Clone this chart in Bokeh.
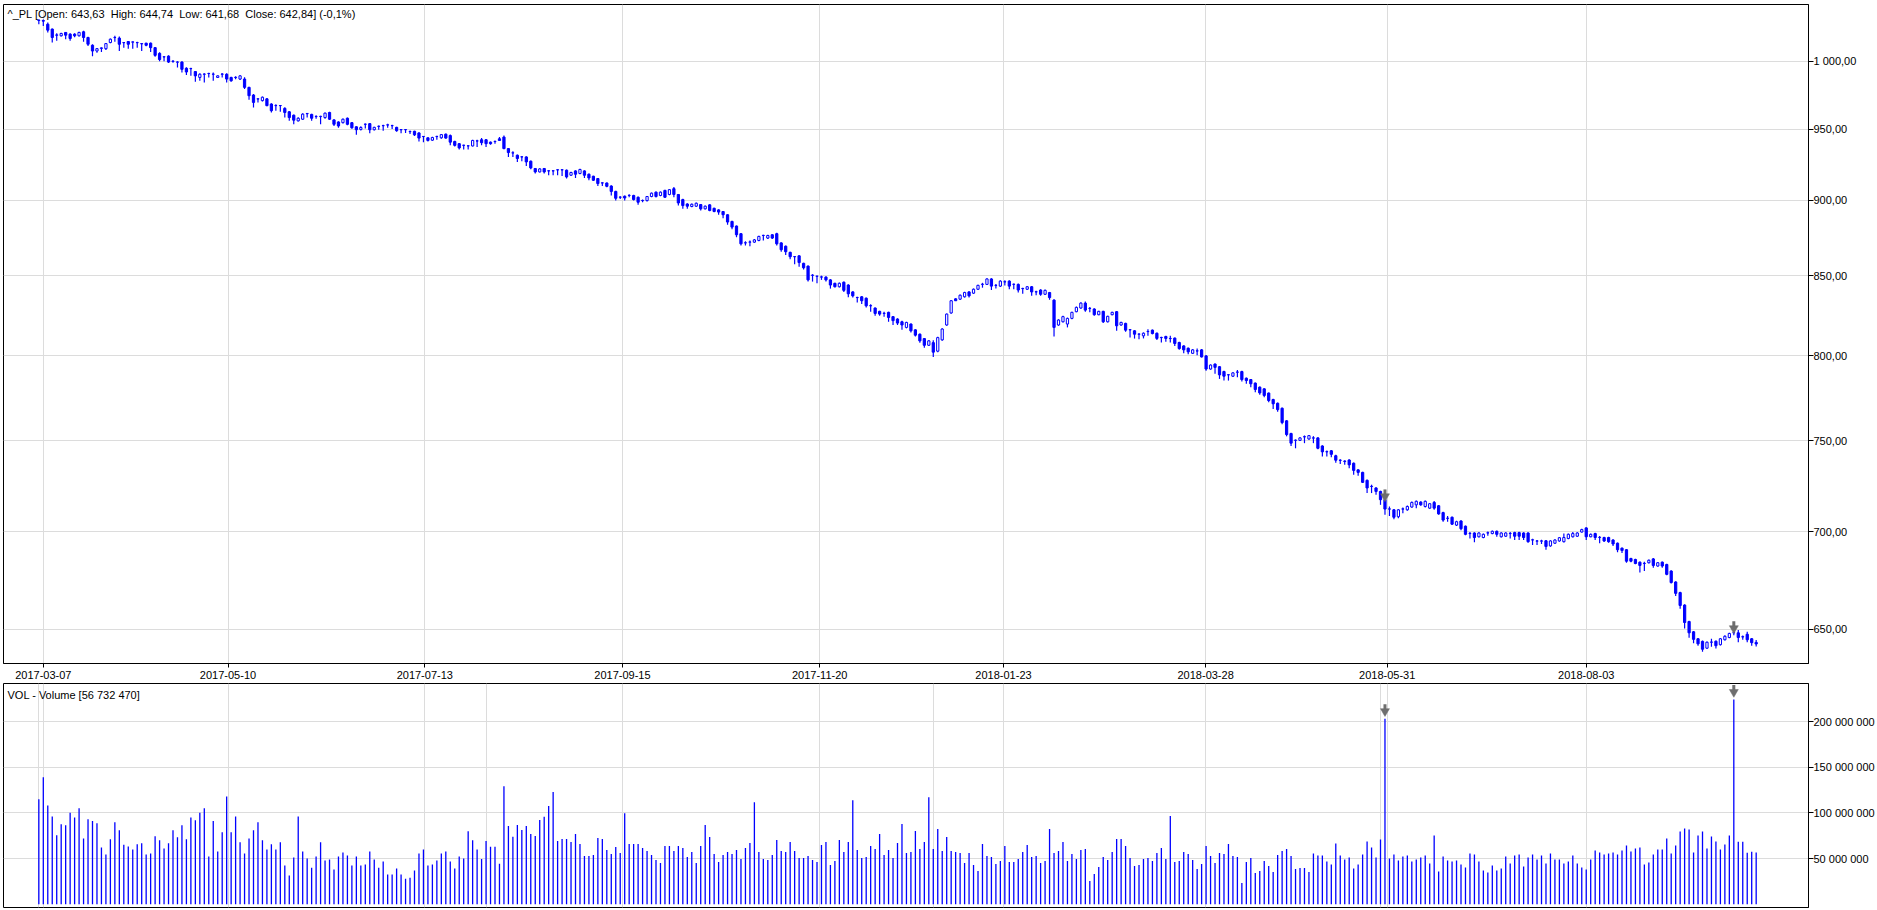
import math
from bokeh.plotting import figure
from bokeh.layouts import column
from bokeh.models import Range1d, FixedTicker, Label, Grid, ColumnDataSource
from bokeh.embed import file_html
from bokeh.resources import INLINE

# ---------------- data ----------------
opens = [
    1031.5, 1031.5, 1028.6, 1024.8, 1020.0, 1019.6, 1022.2, 1020.9, 1020.9, 1019.6,
    1022.7, 1018.3, 1012.3, 1007.9, 1009.9, 1009.7, 1014.4, 1018.2, 1017.8, 1014.3,
    1015.2, 1014.7, 1014.3, 1013.4, 1013.9, 1013.9, 1010.5, 1006.1, 1003.4, 1004.0,
    1000.0, 999.4, 999.5, 994.8, 994.5, 992.3, 987.9, 990.3, 990.8, 990.3,
    987.9, 990.3, 990.3, 987.9, 987.8, 986.7, 986.7, 980.5, 974.8, 971.9,
    970.7, 972.0, 968.2, 967.0, 967.0, 965.0, 962.5, 960.0, 955.9, 957.1,
    961.1, 960.6, 959.0, 959.0, 958.3, 962.0, 956.6, 955.1, 954.6, 957.8,
    954.6, 951.6, 949.7, 953.4, 953.9, 949.5, 951.9, 952.4, 952.9, 952.4,
    951.2, 949.5, 949.5, 948.1, 948.4, 947.2, 944.6, 943.7, 942.0, 944.6,
    943.7, 946.3, 945.3, 941.1, 939.5, 938.3, 937.9, 937.9, 941.4, 942.3,
    942.3, 940.6, 941.0, 943.0, 944.2, 936.0, 932.9, 931.3, 930.1, 930.1,
    927.1, 922.0, 919.6, 922.0, 920.3, 920.3, 921.0, 921.0, 920.8, 917.3,
    920.3, 918.5, 920.3, 918.0, 916.6, 915.0, 911.9, 911.9, 909.8, 906.1,
    902.1, 902.8, 903.3, 903.3, 902.1, 899.8, 899.8, 902.6, 905.6, 903.3,
    906.8, 904.0, 908.0, 904.0, 900.5, 897.5, 895.8, 896.0, 897.1, 894.2,
    896.9, 894.6, 893.5, 892.4, 890.2, 885.7, 882.6, 877.5, 871.4, 871.9,
    871.9, 873.0, 876.3, 874.6, 876.8, 877.5, 871.4, 869.2, 865.2, 862.3,
    862.9, 858.0, 856.2, 850.2, 849.6, 849.1, 849.1, 847.3, 845.1, 842.9,
    845.8, 844.0,
    839.6, 836.0, 836.5, 835.6, 830.8, 829.4, 827.3, 826.0, 826.7, 824.0,
    822.5, 820.8, 817.3, 819.4, 815.8, 813.1, 810.4, 806.3, 807.9, 802.7,
    809.6, 818.8, 826.3, 835.2, 835.0, 836.5, 839.6, 838.8, 841.3, 844.4,
    844.4, 847.9, 843.7, 843.3, 846.0, 846.5, 844.4, 844.4, 841.7, 841.3,
    842.9, 839.6, 840.8, 838.1, 839.2, 834.4, 818.8, 820.8, 819.4, 822.9,
    827.1, 829.4, 832.5, 829.1, 828.8, 825.2, 827.3, 820.8, 825.2, 827.1,
    818.8, 819.8, 815.8, 815.2, 813.1,
    812.1, 814.7, 815.6, 813.7, 811.0, 811.7, 810.4, 810.7, 808.0, 805.9,
    804.5, 801.4, 802.8, 803.5, 799.8, 791.9, 794.9, 793.3, 790.4, 788.4,
    787.6, 790.0, 790.4, 786.4, 785.6, 783.5, 781.1, 780.1, 777.6, 773.8,
    771.6, 768.7, 761.4, 754.1, 750.2, 750.2, 752.2, 751.0, 751.5, 751.6,
    747.0, 743.7, 744.3,
    741.5, 739.0, 738.5, 739.1, 737.3, 733.6, 732.2, 727.8, 724.4, 723.6,
    721.7, 717.2, 712.1, 711.7, 708.0, 712.1, 711.7, 713.2, 714.4, 715.9,
    713.5, 712.6, 715.7, 713.9, 710.2, 707.1, 707.7, 703.5, 705.7, 702.9,
    699.0, 699.3, 697.3, 696.9, 699.3, 699.0, 700.2, 697.3, 697.6, 699.0,
    699.5, 699.5, 699.3, 699.3, 695.6, 695.0, 695.0, 695.2, 692.5, 693.9,
    695.1, 694.7, 696.4, 697.3, 697.6, 699.8, 702.0, 697.3, 699.0, 696.9,
    696.9, 696.9, 695.6, 693.9, 691.3, 690.5, 685.9, 685.4, 684.0, 683.3,
    683.7, 685.7, 682.0, 684.0, 682.8, 679.4, 673.8, 668.4, 662.1, 653.9,
    648.8, 645.4, 644.1, 640.8, 643.7, 644.2, 642.5, 644.9, 646.0, 648.3,
    648.3, 646.3, 647.6, 645.4, 643.63,
]

highs = [
    1032.3, 1032.3, 1030.0, 1025.3, 1021.6, 1022.0, 1022.5, 1021.5, 1021.6, 1022.8,
    1023.5, 1018.8, 1013.0, 1010.2, 1010.6, 1014.0, 1017.5, 1019.6, 1019.0, 1014.8,
    1015.5, 1015.3, 1015.0, 1014.0, 1014.2, 1014.5, 1011.0, 1007.0, 1004.0, 1004.6,
    1000.8, 1000.1, 1000.2, 995.5, 995.2, 992.8, 991.0, 991.0, 991.5, 991.6,
    989.6, 991.0, 991.0, 988.4, 988.8, 989.8, 988.0, 981.0, 975.5, 972.5,
    973.8, 972.6, 968.7, 968.0, 967.5, 965.8, 963.0, 960.6, 958.5, 961.5,
    961.6, 961.0, 960.0, 959.6, 962.0, 962.5, 957.0, 955.6, 957.6, 958.3,
    955.0, 952.0, 952.0, 954.0, 954.4, 951.6, 952.5, 953.0, 953.8, 953.0,
    951.6, 950.0, 950.0, 949.0, 948.8, 947.7, 945.0, 944.0, 944.5, 945.2,
    946.5, 946.8, 946.0, 941.6, 940.0, 938.8, 938.4, 942.3, 942.3, 943.5,
    942.8, 941.0, 941.8, 944.2, 945.3, 936.5, 934.1, 931.8, 930.6, 930.6,
    927.6, 922.4, 922.2, 922.4, 920.8, 920.8, 921.5, 921.5, 921.2, 919.7,
    920.7, 921.8, 920.8, 918.5, 917.0, 915.4, 912.5, 912.3, 910.3, 906.6,
    902.8, 903.3, 904.2, 903.8, 902.6, 900.6, 903.0, 905.3, 906.0, 906.1,
    907.3, 907.8, 909.1, 904.4, 901.0, 898.0, 897.8, 898.5, 897.5, 896.5,
    897.3, 895.0, 893.9, 892.8, 890.6, 886.1, 883.0, 877.9, 872.5, 873.0,
    873.9, 876.1, 876.8, 876.8, 877.2, 878.1, 871.8, 869.6, 865.6, 862.8,
    863.3, 858.4, 856.6, 851.0, 850.0, 850.0, 849.6, 847.8, 845.5, 845.6,
    846.2, 844.5,
    840.0, 836.5, 837.0, 836.0, 831.8, 829.8, 827.7, 827.0, 827.1, 824.4,
    823.0, 821.5, 820.8, 819.8, 816.2, 813.5, 810.8, 809.5, 809.4, 811.5,
    816.8, 826.0, 834.5, 835.5, 838.0, 839.7, 840.0, 841.8, 844.2, 845.4,
    848.4, 848.4, 844.6, 847.0, 847.1, 847.0, 845.0, 844.9, 842.2, 843.4,
    843.4, 840.4, 841.3, 841.1, 839.6, 835.0, 822.4, 824.5, 823.4, 827.1,
    830.3, 833.0, 833.5, 830.0, 829.2, 827.7, 827.7, 824.6, 827.1, 827.6,
    820.8, 820.2, 816.3, 815.6, 813.6,
    814.2, 816.2, 816.0, 814.1, 811.5, 812.1, 812.1, 811.1, 808.4, 806.3,
    804.9, 804.0, 804.3, 804.0, 800.3, 794.7, 795.3, 793.7, 790.8, 788.9,
    790.0, 791.3, 790.8, 786.8, 786.0, 783.9, 781.5, 780.5, 778.0, 774.2,
    772.0, 769.1, 761.8, 754.5, 750.7, 752.0, 753.0, 753.3, 752.6, 752.0,
    747.4, 744.5, 744.7,
    742.0, 739.5, 738.9, 739.5, 737.7, 734.0, 732.6, 728.2, 725.4, 724.0,
    722.1, 717.6, 713.5, 712.1, 712.1, 713.0, 714.0, 716.2, 716.8, 716.4,
    716.8, 715.4, 716.5, 714.3, 710.6, 708.4, 708.1, 705.8, 706.1, 703.3,
    699.8, 699.7, 699.7, 699.0, 700.1, 700.6, 700.6, 699.7, 699.7, 699.8,
    699.9, 699.9, 699.7, 699.7, 696.2, 695.6, 695.7, 695.6, 695.5, 696.0,
    697.2, 699.0, 699.0, 699.8, 699.7, 701.5, 702.4, 699.0, 699.4, 697.7,
    697.3, 697.3, 696.0, 694.3, 691.7, 690.9, 686.3, 685.8, 684.4, 684.2,
    685.4, 686.1, 684.1, 684.4, 683.2, 679.8, 674.2, 668.8, 662.5, 654.3,
    649.2, 645.8, 644.5, 644.1, 645.4, 644.6, 645.8, 647.1, 648.4, 649.3,
    649.7, 647.0, 648.8, 645.8, 644.74,
]

lows = [
    1028.6, 1027.3, 1022.2, 1014.4, 1015.7, 1019.0, 1017.0, 1015.7, 1018.5, 1019.0,
    1015.0, 1011.8, 1004.0, 1006.6, 1007.2, 1008.7, 1013.8, 1015.0, 1007.9, 1010.5,
    1009.7, 1009.7, 1010.5, 1007.9, 1011.5, 1007.2, 1003.5, 1000.2, 1000.2, 998.7,
    998.9, 995.3, 991.6, 989.8, 989.1, 984.7, 985.4, 984.2, 987.9, 985.4,
    987.5, 987.9, 984.2, 984.7, 986.5, 986.0, 979.3, 971.4, 965.7, 969.4,
    970.0, 966.5, 962.0, 963.3, 962.5, 958.3, 955.9, 953.4, 955.5, 956.5,
    958.3, 955.9, 957.5, 953.4, 957.5, 956.5, 952.2, 951.0, 954.0, 952.8,
    950.2, 945.8, 949.0, 950.4, 947.0, 949.0, 949.5, 948.8, 951.0, 950.0,
    948.0, 947.0, 947.2, 946.5, 945.0, 941.0, 940.6, 941.0, 941.5, 942.3,
    943.0, 943.0, 938.3, 937.5, 935.3, 935.3, 935.3, 937.5, 937.2, 938.3,
    937.2, 938.8, 939.5, 941.4, 935.5, 930.1, 930.1, 926.6, 927.1, 923.8,
    921.5, 918.5, 919.2, 918.5, 917.3, 917.3, 917.3, 916.8, 915.0, 916.8,
    915.4, 918.0, 915.4, 913.8, 913.2, 909.8, 909.8, 909.0, 903.3, 899.8,
    900.9, 899.8, 902.1, 899.8, 896.9, 898.7, 899.2, 902.1, 902.0, 902.8,
    901.6, 903.5, 902.1, 896.4, 894.2, 894.2, 895.3, 895.5, 893.1, 893.8,
    892.6, 891.9, 890.2, 887.9, 883.5, 880.4, 875.2, 869.6, 869.6, 869.2,
    871.4, 872.5, 873.0, 874.0, 874.0, 869.6, 865.6, 863.4, 860.7, 857.4,
    855.8, 854.0, 846.2, 846.2, 845.1, 847.3, 846.2, 841.7, 842.4, 842.4,
    839.5, 836.2,
    836.0, 832.9, 831.9, 829.8, 827.1, 824.6, 824.6, 824.0, 820.8, 818.8,
    818.8, 815.8, 816.7, 814.2, 811.7, 807.9, 804.8, 805.8, 799.2, 802.0,
    809.0, 818.3, 825.8, 833.8, 834.5, 836.0, 836.0, 838.3, 840.8, 842.3,
    844.0, 840.8, 841.7, 842.8, 843.7, 841.3, 841.3, 839.2, 838.5, 840.8,
    837.1, 837.5, 837.1, 837.6, 834.6, 811.7, 818.3, 820.3, 817.3, 822.4,
    826.7, 828.9, 827.1, 826.7, 824.6, 824.8, 820.0, 820.3, 824.8, 815.2,
    818.3, 814.6, 811.0, 810.4, 810.0,
    810.5, 812.1, 813.0, 809.6, 808.0, 808.4, 808.0, 805.9, 803.5, 801.4,
    800.8, 801.0, 800.2, 798.8, 790.9, 791.5, 789.0, 786.0, 785.0, 785.0,
    787.2, 787.0, 784.4, 783.1, 781.1, 778.1, 776.6, 775.2, 772.2, 768.3,
    766.7, 759.4, 752.5, 747.0, 745.7, 749.8, 748.6, 750.6, 748.6, 745.1,
    741.1, 741.1, 740.7,
    737.5, 736.9, 736.4, 734.5, 730.9, 730.3, 726.3, 720.8, 720.8, 719.9,
    714.4, 709.0, 708.4, 706.6, 707.1, 709.9, 711.2, 712.8, 712.6, 713.9,
    713.0, 712.2, 711.8, 709.0, 705.3, 705.3, 703.5, 703.0, 700.7, 698.1,
    696.4, 694.4, 696.9, 696.5, 697.8, 698.6, 697.3, 696.9, 697.2, 696.4,
    695.6, 695.6, 695.6, 694.2, 693.0, 693.0, 693.5, 690.5, 692.0, 693.5,
    694.7, 694.3, 696.0, 696.9, 697.2, 699.5, 695.6, 697.0, 695.6, 693.9,
    694.6, 694.2, 692.5, 689.1, 688.8, 683.7, 684.0, 682.9, 678.6, 679.4,
    683.3, 681.1, 681.6, 681.1, 677.2, 673.0, 666.7, 660.2, 650.5, 645.9,
    643.2, 642.0, 639.1, 640.4, 641.5, 640.7, 642.1, 644.5, 645.6, 647.1,
    643.7, 644.9, 643.7, 642.0, 641.68,
]

closes = [
    1031.8, 1031.0, 1024.0, 1018.3, 1020.3, 1021.4, 1020.1, 1017.5, 1019.6, 1022.2,
    1018.3, 1013.1, 1007.9, 1009.7, 1010.3, 1013.6, 1017.0, 1018.3, 1013.1, 1014.4,
    1013.1, 1014.9, 1014.4, 1013.6, 1012.3, 1010.5, 1004.6, 1001.4, 1003.5, 999.5,
    1000.2, 999.5, 994.0, 992.0, 994.6, 989.1, 990.3, 990.4, 990.9, 990.4,
    989.1, 990.5, 986.7, 985.4, 988.0, 989.1, 980.5, 974.3, 969.4, 972.0,
    973.2, 967.0, 963.3, 967.1, 967.1, 962.0, 958.3, 956.4, 957.8, 960.8,
    961.3, 957.8, 959.1, 959.2, 961.5, 957.1, 953.4, 952.2, 957.1, 953.4,
    950.9, 949.5, 951.1, 953.5, 949.5, 951.2, 952.0, 952.5, 953.0, 952.5,
    948.8, 949.6, 949.6, 948.2, 945.8, 943.5, 944.7, 941.8, 943.9, 944.7,
    946.0, 943.5, 940.6, 938.3, 936.5, 938.4, 938.0, 941.8, 941.5, 940.2,
    939.5, 939.5, 941.1, 941.8, 936.0, 933.2, 933.0, 929.0, 930.2, 926.6,
    922.4, 919.6, 921.7, 919.6, 920.4, 920.4, 921.1, 921.1, 916.1, 919.2,
    918.0, 921.3, 917.3, 915.4, 913.8, 911.5, 912.0, 909.6, 906.1, 901.4,
    902.2, 901.6, 903.4, 900.5, 898.7, 899.9, 902.6, 904.9, 902.6, 905.6,
    902.1, 907.3, 904.0, 898.2, 896.4, 896.0, 897.3, 898.0, 894.2, 896.0,
    893.1, 892.4, 892.0, 890.2, 885.3, 881.9, 876.8, 870.8, 871.5, 872.0,
    873.4, 875.7, 876.4, 876.3, 874.6, 870.8, 866.9, 865.6, 862.3, 862.4,
    858.5, 855.1, 847.3, 850.3, 849.7, 849.2, 847.3, 844.0, 842.9, 845.1,
    840.6, 838.4,
    837.1, 836.1, 834.0, 830.8, 830.9, 826.0, 825.6, 826.1, 823.5, 821.5,
    820.0, 818.8, 820.4, 815.2, 812.5, 809.0, 806.3, 809.0, 802.1, 811.0,
    816.3, 825.6, 834.0, 834.0, 837.5, 839.2, 837.1, 841.3, 843.8, 844.5,
    847.9, 843.3, 843.8, 846.5, 846.1, 843.3, 844.5, 840.8, 841.8, 842.9,
    839.6, 839.7, 838.1, 840.6, 836.0, 817.3, 821.9, 824.0, 822.9, 826.7,
    829.8, 832.5, 828.1, 829.2, 825.2, 827.3, 820.8, 824.2, 826.7, 818.3,
    820.4, 815.6, 815.9, 813.1, 813.2,
    813.7, 814.8, 813.5, 810.5, 811.1, 810.5, 810.5, 807.4, 804.3, 803.5,
    802.3, 803.5, 802.9, 799.2, 791.9, 794.3, 792.9, 788.4, 787.6, 788.5,
    789.6, 790.1, 785.6, 785.0, 783.1, 779.7, 777.7, 776.2, 773.2, 771.3,
    767.9, 760.4, 753.5, 748.6, 750.3, 751.6, 752.3, 752.9, 751.6, 745.7,
    743.7, 743.8, 742.3,
    739.0, 738.9, 738.3, 736.4, 733.3, 732.2, 726.7, 723.6, 724.5, 721.7,
    717.2, 712.1, 712.2, 707.7, 711.7, 712.2, 713.5, 715.7, 716.3, 714.4,
    716.3, 715.0, 712.6, 709.5, 706.2, 707.2, 704.0, 705.3, 701.6, 698.6,
    699.1, 696.9, 699.3, 698.6, 699.4, 700.2, 698.6, 699.3, 699.3, 699.1,
    697.6, 697.6, 696.9, 694.7, 695.7, 695.1, 695.1, 692.2, 695.1, 695.6,
    696.8, 696.9, 698.6, 699.0, 699.3, 701.1, 697.3, 698.6, 696.9, 697.0,
    695.1, 694.7, 693.5, 690.5, 690.1, 684.5, 684.5, 683.3, 682.3, 683.4,
    685.0, 682.3, 683.7, 682.0, 677.7, 673.5, 668.0, 661.9, 653.4, 648.3,
    645.1, 642.9, 640.3, 643.7, 643.8, 642.0, 645.4, 646.6, 648.0, 648.4,
    646.0, 646.4, 644.9, 643.5, 642.84,
]

# volume in millions of shares
volumes_m = [
    115, 139, 108, 96, 75.4, 87.6, 86.5, 100, 95, 105,
    72, 93, 91, 88.7, 62, 54.5, 71, 89.8, 81, 65,
    63.3, 60, 65.5, 66.6, 54.5, 55.6, 74.3, 70, 61, 66.6,
    81, 73.2, 86.5, 71, 95, 92, 100, 105, 52.3, 91,
    57.8, 78.8, 118, 78.8, 96, 67.7, 55.6, 72, 81, 89.8,
    70, 60, 65.5, 60, 67.7, 42.3, 31.3, 51.2, 96, 57.8,
    50, 40, 52.3, 67.7, 47.8, 49, 37.9, 52.3, 56.7, 53.4,
    42.3, 52.3, 42.3, 43.4, 57.8, 49, 40, 46.7, 32.4, 32.4,
    39, 32.4, 28, 29, 36.8, 55.6, 60, 42.3, 43.4, 47.8,
    55.6, 57.8, 46.7, 39, 52.3, 50, 79.9, 70, 60,
    49.5, 69.2, 63, 63, 44.4, 129.2, 85.5, 73.9, 86.6, 81.2,
    85.5, 76.8, 74.6, 92.1, 95.7, 107.4, 122.7, 69.2, 71.3, 71.3,
    68.1, 76.8, 65.9, 52.8, 52.8, 53.9, 72.4, 71.3, 59.3, 55,
    62.6, 56.1, 99.7, 65.9, 65.9, 65.9, 61.5, 58.2, 53.9, 48.4,
    45.1, 63.7, 63.7, 58.2, 63.7, 61.5, 51.7, 57.1, 45.1, 63.7,
    86.6, 73.5, 55, 46.2, 53.9, 57.1, 55, 59.3, 49.5, 61.5,
    67, 111.7, 57.1, 49.5, 48.4, 53.9, 70.3, 58.2, 57.1, 68.1,
    58.2, 50.6, 50.6, 52.8, 48.4, 46.2, 64.8, 68.1, 43, 47.3,
    70.3, 57.1, 68.1, 113.9, 59.3, 50.6, 51.7, 63.7, 60.4, 76.8,
    53.9, 59.3, 50.6, 67, 87.7, 56.1, 57.1, 80.1, 60.4, 68.1,
    117.2, 60.4, 82.3, 58.2, 73.5, 58.2, 57.1, 56.1, 45.1, 56.1,
    43, 36.4, 65.9, 52.8, 51.7, 44, 47.3, 63.7, 46.2, 46.2,
    49.5, 57.1, 64.8, 51.7, 52.8, 45.1, 47.3, 82.3, 56.1, 58.2,
    68.1, 47.3, 55, 49.5, 59.3, 60.4, 25.5, 33.1, 40.8, 51.7,
    48.4, 57.1, 71.3, 71.3, 63.7, 50.6, 41.9, 43, 49.5, 50.6,
    47.3, 56.1, 61.5, 49.5, 96.5, 46.2, 47.3, 57.1, 55, 48.4,
    38.6, 44, 63.7, 52.8, 45.1, 56.1, 55, 65.9, 52.8, 51.7,
    23.3, 46.2, 50.6, 34.2, 36.4, 47.3, 41.9, 35.3, 53.9, 58.2,
    60.4, 52.8, 38.6, 39.7, 39.7, 35.3, 55.5, 53.3, 53.3, 46.7,
    43.4, 66.4, 53.3, 48.9, 51.1, 39, 43.4, 54.4, 68.6, 62,
    51.1, 70.8, 203, 50, 54.4, 47.8, 52.2, 53.3, 46.7, 48.9,
    51.1, 53.3, 44.5, 75.2, 35.8, 52.2, 47.8, 46.7, 47.8, 43.4,
    40.2, 55.5, 54.4, 46.7, 36.9, 34.7, 42.3, 36.9, 39, 52.2,
    44.5, 53.3, 54.4, 41.2, 51.1, 54.4, 48.9, 53.3, 44.5, 55.5,
    48.9, 48.9, 44.5, 46.7, 53.3, 44.5, 40.2, 38, 48.9, 58.8,
    56.6, 54.4, 55.5, 56.6, 54.4, 58.8, 64.2, 57.7, 61, 62,
    43.4, 45.6, 54.4, 59.9, 59.9, 71.9, 55.5, 64.2, 79.6, 82.9,
    81.8, 56.6, 75.2, 79.6, 61, 74.1, 68.6, 59.9, 65.3, 75.2,
    224, 68.3, 68.3, 56.2, 57.3, 56.73,
]

date_tick_pos = [1, 42.3, 86.3, 130.5, 174.6, 215.7, 260.9, 301.5, 346.0]
date_tick_labels = ["2017-03-07", "2017-05-10", "2017-07-13", "2017-09-15", "2017-11-20",
                    "2018-01-23", "2018-03-28", "2018-05-31", "2018-08-03"]
price_ticks = [650, 700, 750, 800, 850, 900, 950, 1000]
price_tick_labels = ["650,00", "700,00", "750,00", "800,00", "850,00", "900,00", "950,00", "1 000,00"]
vol_ticks = [50, 100, 150, 200]
vol_tick_labels = ["50 000 000", "100 000 000", "150 000 000", "200 000 000"]
marker_bars = [301, 379]

price_title = "^_PL [Open: 643,63\u00a0 High: 644,74\u00a0 Low: 641,68\u00a0 Close: 642,84] (-0,1%)"
vol_title = "VOL - Volume [56 732 470]"

assert len(opens) == len(highs) == len(lows) == len(closes) == len(volumes_m)

# ---------------- styling / layout ----------------
BLUE = "#0000ff"
GRID = "#dcdcdc"
FONT = "Liberation Sans"
ARROW = "#6e6e6e"
W = 1877

n = len(closes)
xs = list(range(n))
src = ColumnDataSource(dict(
    x=xs, o=opens, h=highs, l=lows, c=closes, v=volumes_m,
    top=[max(a, b) for a, b in zip(opens, closes)],
    bot=[min(a, b) for a, b in zip(opens, closes)],
    fill=["white" if c >= o else BLUE for o, c in zip(opens, closes)],
))

xr = Range1d(-7.9, 395.7)
PRICE_LO, PRICE_HI = 633.4, 1044.1
VOL_LO, VOL_HI = -3.6, 241.6
PX_PER_LN = 1316.0     # price panel: pixels per unit of ln(price)
PX_PER_M = 0.9135      # volume panel: pixels per million

p1 = figure(width=W, height=681, x_range=xr, y_range=Range1d(PRICE_LO, PRICE_HI),
            y_axis_type="log", y_axis_location="right", x_axis_location="below",
            output_backend="svg", toolbar_location=None,
            min_border_left=3, min_border_right=60, min_border_top=4, min_border_bottom=0)
p1.segment(x0="x", y0="l", x1="x", y1="h", source=src, line_color=BLUE, line_width=1.2)
p1.vbar(x="x", width=0.5, top="top", bottom="bot", source=src,
        fill_color="fill", line_color=BLUE, line_width=1)

p2 = figure(width=W, height=229, x_range=xr, y_range=Range1d(VOL_LO, VOL_HI),
            y_axis_location="right", x_axis_location=None,
            output_backend="svg", toolbar_location=None,
            min_border_left=3, min_border_right=60, min_border_top=2, min_border_bottom=3)
p2.segment(x0="x", y0=0, x1="x", y1="v", source=src, line_color=BLUE, line_width=1.3)
p2.add_layout(Grid(dimension=0, ticker=FixedTicker(ticks=date_tick_pos, minor_ticks=[]),
                   grid_line_color=GRID, grid_line_width=1))

# event markers (grey down arrows) above the flagged bars
mk_x = marker_bars
p1_head = [highs[b] * math.exp(2.5 / PX_PER_LN) for b in marker_bars]
p1_shaft = [highs[b] * math.exp(7.0 / PX_PER_LN) for b in marker_bars]
p2_head = [volumes_m[b] + 7.5 / PX_PER_M for b in marker_bars]
p2_shaft = [volumes_m[b] + 12.0 / PX_PER_M for b in marker_bars]
for p, heads, shafts in ((p1, p1_head, p1_shaft), (p2, p2_head, p2_shaft)):
    p.rect(x=mk_x, y=shafts, width=3, height=5, width_units="screen", height_units="screen",
           fill_color=ARROW, line_color=None)
    p.scatter(x=mk_x, y=heads, marker="inverted_triangle", size=9,
              fill_color=ARROW, line_color=ARROW, line_width=0.5)

p1.xaxis.ticker = FixedTicker(ticks=date_tick_pos, minor_ticks=[])
p1.xaxis.major_label_overrides = {t: s for t, s in zip(date_tick_pos, date_tick_labels)}
p1.yaxis.ticker = FixedTicker(ticks=price_ticks, minor_ticks=[])
p1.yaxis.major_label_overrides = {t: s for t, s in zip(price_ticks, price_tick_labels)}
p2.yaxis.ticker = FixedTicker(ticks=vol_ticks, minor_ticks=[])
p2.yaxis.major_label_overrides = {t: s for t, s in zip(vol_ticks, vol_tick_labels)}

for p in (p1, p2):
    p.background_fill_color = "white"
    p.border_fill_color = "white"
    p.outline_line_color = "black"
    p.outline_line_width = 1
    p.outline_line_alpha = 1
    p.xgrid.grid_line_color = GRID
    p.ygrid.grid_line_color = GRID
    for ax in p.axis:
        ax.axis_line_color = "black"
        ax.major_tick_line_color = "black"
        ax.minor_tick_line_color = None
        ax.minor_tick_out = 0
        ax.minor_tick_in = 0
        ax.major_label_text_font = FONT
        ax.major_label_text_font_size = "11px"
        ax.major_label_text_color = "black"
    for ax in p.yaxis:
        ax.major_tick_out = 5
        ax.major_tick_in = 0
        ax.major_label_standoff = 0

p1.xaxis.major_tick_out = 4
p1.xaxis.major_tick_in = 0
p1.xaxis.major_label_standoff = 3

p1.add_layout(Label(x=xr.start, y=PRICE_HI, x_offset=4, y_offset=-3, text=price_title,
                    text_baseline="top", text_font=FONT, text_font_size="11px", text_color="black"))
p2.add_layout(Label(x=xr.start, y=VOL_HI, x_offset=4, y_offset=-5, text=vol_title,
                    text_baseline="top", text_font=FONT, text_font_size="11px", text_color="black"))

layout = column(p1, p2)
open("out.html", "w").write(file_html(layout, INLINE))
